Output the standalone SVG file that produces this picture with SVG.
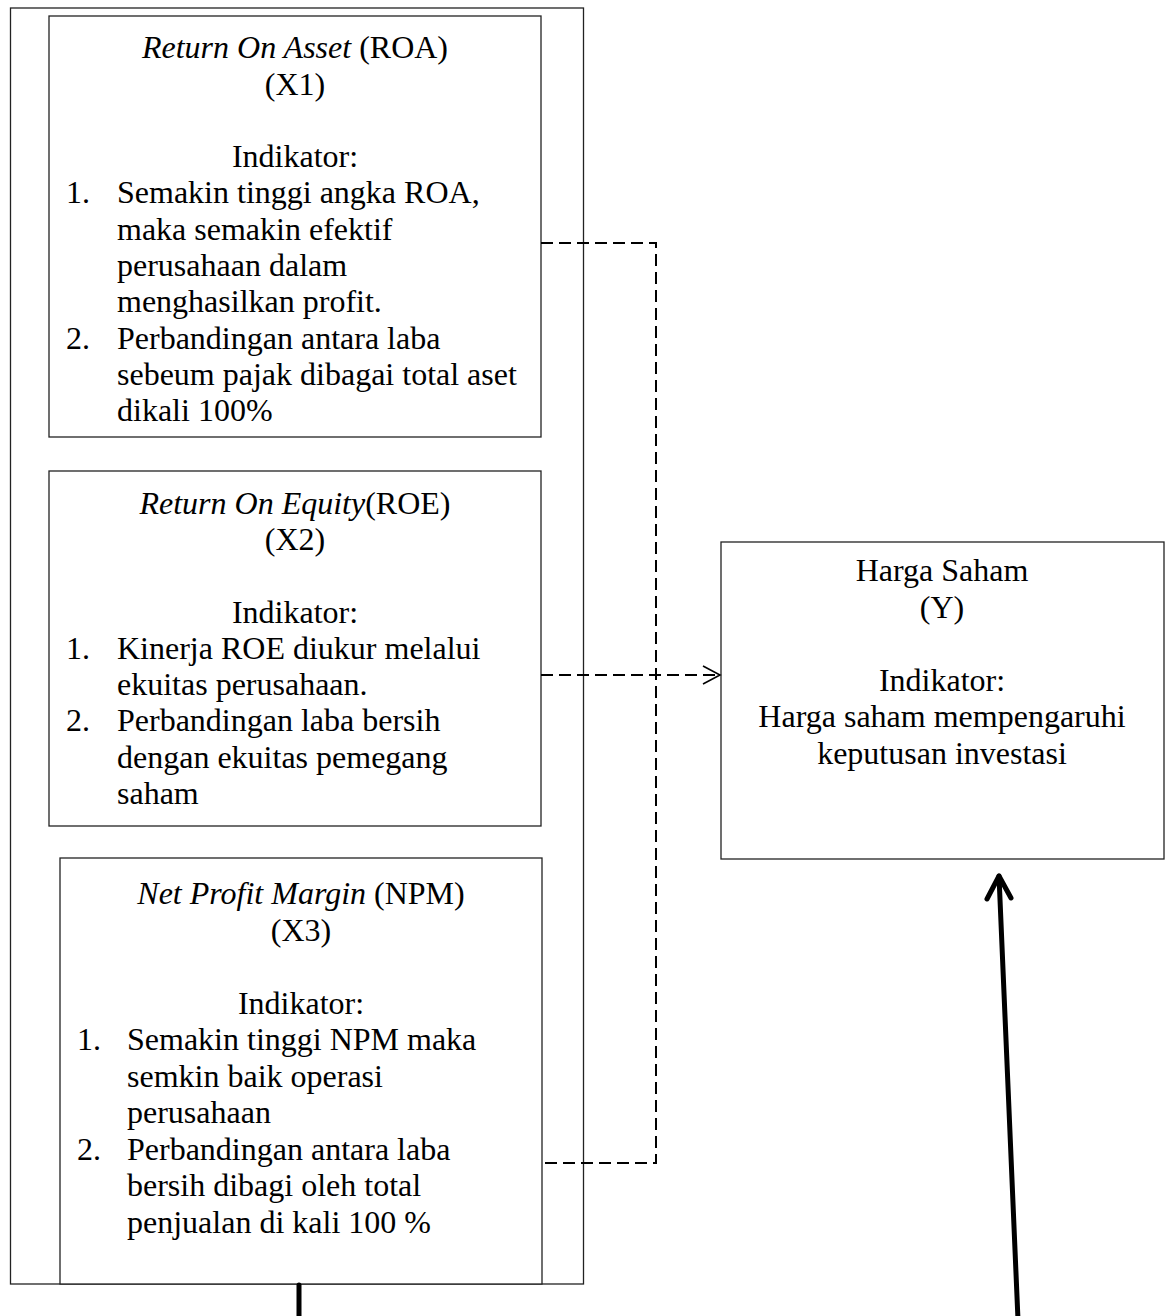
<svg xmlns="http://www.w3.org/2000/svg" width="1166" height="1316" viewBox="0 0 1166 1316">
<style>
.box{fill:#fff;stroke:#222;stroke-width:1.3}
.frame{fill:none;stroke:#222;stroke-width:1.3}
text{font-family:"Liberation Serif","Times New Roman",serif;font-size:32px;fill:#000}
.c{text-anchor:middle}
.i{font-style:italic}
.dash{fill:none;stroke:#000;stroke-width:2;stroke-dasharray:12 6}
.head{fill:none;stroke:#000;stroke-width:1.6}
.thick{fill:none;stroke:#000;stroke-width:5;stroke-linecap:round;stroke-linejoin:round}
</style>
<rect width="1166" height="1316" fill="#fff"/>
<g id="frame-x">
<rect class="frame" x="10.5" y="8" width="573" height="1276"/>
</g>
<g id="node-x1">
<rect class="box" x="49" y="16" width="492" height="421"/>
<text class="c" x="295" y="58"><tspan class="i">Return On Asset</tspan> (ROA)</text>
<text class="c" x="295" y="94.5">(X1)</text>
<text class="c" x="295" y="167">Indikator:</text>
<text x="66" y="203">1.</text>
<text x="117" y="203">Semakin tinggi angka ROA,</text>
<text x="117" y="239.5">maka semakin efektif</text>
<text x="117" y="276">perusahaan dalam</text>
<text x="117" y="312">menghasilkan profit.</text>
<text x="66" y="348.5">2.</text>
<text x="117" y="348.5">Perbandingan antara laba</text>
<text x="117" y="385">sebeum pajak dibagai total aset</text>
<text x="117" y="421">dikali 100%</text>
</g>
<g id="node-x2">
<rect class="box" x="49" y="471" width="492" height="355"/>
<text class="c" x="295" y="514"><tspan class="i">Return On Equity</tspan>(ROE)</text>
<text class="c" x="295" y="550">(X2)</text>
<text class="c" x="295" y="622.5">Indikator:</text>
<text x="66" y="658.5">1.</text>
<text x="117" y="658.5">Kinerja ROE diukur melalui</text>
<text x="117" y="695">ekuitas perusahaan.</text>
<text x="66" y="731">2.</text>
<text x="117" y="731">Perbandingan laba bersih</text>
<text x="117" y="767.5">dengan ekuitas pemegang</text>
<text x="117" y="804">saham</text>
</g>
<g id="node-x3">
<rect class="box" x="60" y="858" width="482" height="426"/>
<text class="c" x="301" y="904"><tspan class="i">Net Profit Margin</tspan> (NPM)</text>
<text class="c" x="301" y="940.5">(X3)</text>
<text class="c" x="301" y="1013.5">Indikator:</text>
<text x="77" y="1050">1.</text>
<text x="127" y="1050">Semakin tinggi NPM maka</text>
<text x="127" y="1086.5">semkin baik operasi</text>
<text x="127" y="1123">perusahaan</text>
<text x="77" y="1159.5">2.</text>
<text x="127" y="1159.5">Perbandingan antara laba</text>
<text x="127" y="1196">bersih dibagi oleh total</text>
<text x="127" y="1232.5">penjualan di kali 100 %</text>
</g>
<g id="node-y">
<rect class="box" x="721" y="542" width="443" height="317"/>
<text class="c" x="942" y="581">Harga Saham</text>
<text class="c" x="942" y="617.5">(Y)</text>
<text class="c" x="942" y="690.5">Indikator:</text>
<text class="c" x="942" y="727">Harga saham mempengaruhi</text>
<text class="c" x="942" y="763.5">keputusan investasi</text>
</g>
<g id="connectors">
<polyline class="dash" points="541,243 656,243 656,1163 541,1163"/>
<line class="dash" x1="541" y1="675" x2="719" y2="675"/>
<polyline class="head" points="703,666 720,675 703,684"/>
<line class="thick" x1="299" y1="1285" x2="299" y2="1320"/>
<line class="thick" x1="1018" y1="1320" x2="999" y2="876"/>
<polyline class="thick" points="987,899 999,876 1011,898"/>
</g>
</svg>
